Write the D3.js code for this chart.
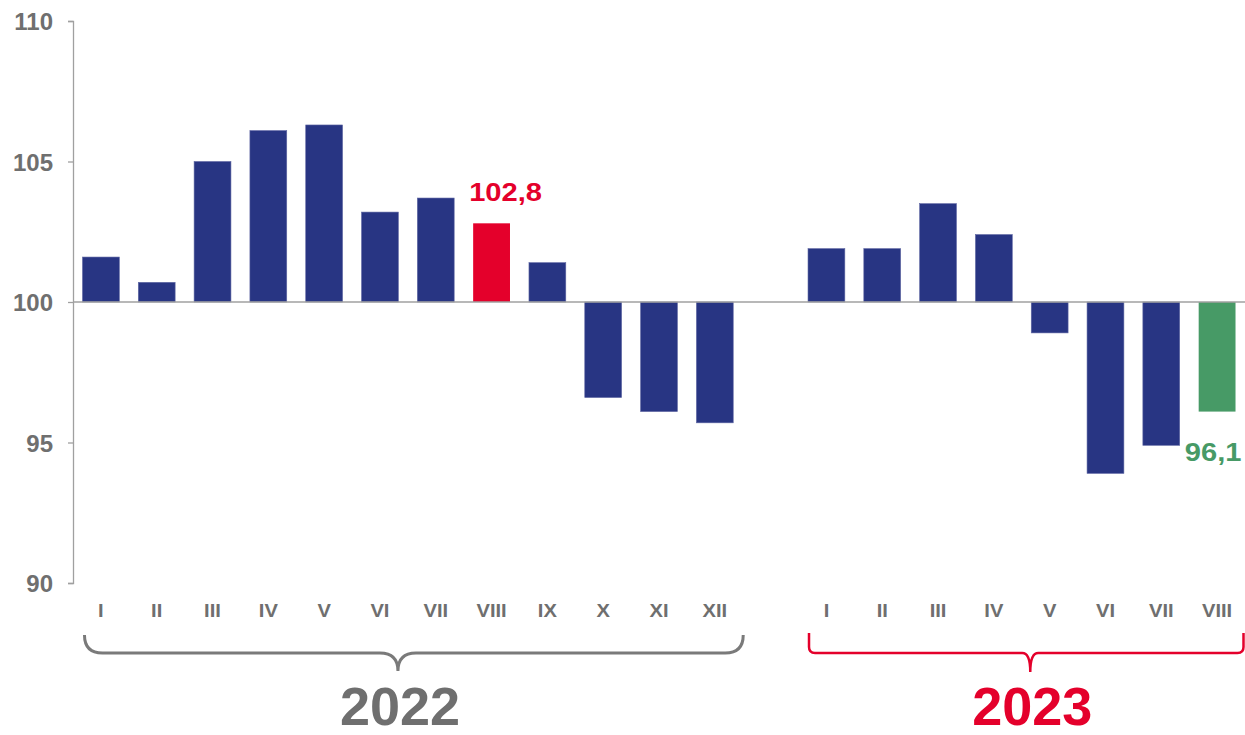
<!DOCTYPE html>
<html>
<head>
<meta charset="utf-8">
<script src="https://cdn.jsdelivr.net/npm/d3@7"></script>
<style>
  body { margin: 0; background: #fff; }
  text { font-family: Arial, "Liberation Sans", sans-serif; font-weight: bold; }
</style>
</head>
<body>
<svg width="1245" height="735"></svg>
<script>
// data
var months2022 = ["I", "II", "III", "IV", "V", "VI", "VII", "VIII", "IX", "X", "XI", "XII"];
var values2022 = [101.6, 100.7, 105.0, 106.1, 106.3, 103.2, 103.7, 102.8, 101.4, 96.6, 96.1, 95.7];
var months2023 = ["I", "II", "III", "IV", "V", "VI", "VII", "VIII"];
var values2023 = [101.9, 101.9, 103.5, 102.4, 98.9, 93.9, 94.9, 96.1];
var years = ["2022", "2023"];
var yTicks = [90, 95, 100, 105, 110];
var baseValue = 100;

var navy = "#283583", red = "#e4002b", green = "#479a66", grey = "#6f6f6f";

// one row per month, plus an empty slot between the years
var data = [];
months2022.forEach(function(m, i) {
  data.push({key: "2022-" + m, month: m, value: values2022[i], year: "2022"});
});
var gapKey = "gap";
months2023.forEach(function(m, i) {
  data.push({key: "2023-" + m, month: m, value: values2023[i], year: "2023"});
});
var keys = data.slice(0, 12).map(function(d) { return d.key; })
  .concat([gapKey])
  .concat(data.slice(12).map(function(d) { return d.key; }));

var margin = {left: 73, right: 0, top: 21, bottom: 152};
var w = 1245, h = 735;

var x = d3.scaleBand().domain(keys)
    .range([margin.left, w - margin.right])
    .paddingInner(0.34).paddingOuter(0.17);
var y = d3.scaleLinear().domain([90, 110]).range([h - margin.bottom, margin.top]);

var svg = d3.select("svg");

// y axis
var yAxis = d3.axisLeft(y).tickValues(yTicks).tickSize(5).tickPadding(15).tickFormat(d3.format("d"));
var gy = svg.append("g")
    .attr("transform", "translate(" + margin.left + ",0)")
    .call(yAxis);
gy.select(".domain").attr("stroke", "#a0a0a0").attr("stroke-width", 1.3);
gy.selectAll(".tick line").attr("stroke", "#a0a0a0").attr("stroke-width", 1.3);
gy.selectAll(".tick text")
    .attr("fill", grey)
    .attr("dy", "0.36em")
    .style("font-size", "24px")
    .style("font-weight", "bold")
    .style("font-family", "Arial, 'Liberation Sans', sans-serif");

// bars
function barColor(d) {
  if (d.year === "2022" && d.month === "VIII") return red;
  if (d.year === "2023" && d.month === "VIII") return green;
  return navy;
}

svg.append("g").selectAll("rect")
  .data(data)
  .enter().append("rect")
    .attr("x", function(d) { return x(d.key); })
    .attr("width", x.bandwidth())
    .attr("y", function(d) { return y(Math.max(d.value, baseValue)); })
    .attr("height", function(d) { return Math.abs(y(d.value) - y(baseValue)); })
    .attr("fill", barColor)
    .attr("stroke", function(d) { return barColor(d) === navy ? "#5f67a3" : "none"; })
    .attr("stroke-width", 0.6);

// base line at 100
svg.append("line")
    .attr("x1", margin.left).attr("x2", w)
    .attr("y1", y(baseValue)).attr("y2", y(baseValue))
    .attr("stroke", "#a0a0a0").attr("stroke-width", 1.5);

// month labels (slightly widened like the original)
svg.append("g").selectAll("text")
  .data(data)
  .enter().append("text")
    .attr("transform", function(d) {
      return "translate(" + (x(d.key) + x.bandwidth() / 2) + ",617) scale(1.12,1)";
    })
    .attr("text-anchor", "middle")
    .attr("fill", grey)
    .style("font-size", "18px")
    .text(function(d) { return d.month; });

// value labels
var fmt = function(v) { return d3.format(".1f")(v).replace(".", ","); };
var aug22 = data[7], aug23 = data[data.length - 1];
svg.append("text")
    .attr("transform", "translate(" + (x(aug22.key) + x.bandwidth() / 2 + 14) + "," + (y(aug22.value) - 22) + ") scale(1.12,1)")
    .attr("text-anchor", "middle")
    .attr("fill", red)
    .style("font-size", "26px")
    .text(fmt(aug22.value));
svg.append("text")
    .attr("transform", "translate(" + (x(aug23.key) + x.bandwidth() / 2 - 4) + "," + (y(aug23.value) + 49) + ") scale(1.12,1)")
    .attr("text-anchor", "middle")
    .attr("fill", green)
    .style("font-size", "26px")
    .text(fmt(aug23.value));

// braces
function brace(x0, x1, xm, yTop, yLine, yTip, r, rm) {
  return "M" + x0 + "," + yTop +
    " L" + x0 + "," + (yLine - r) +
    " Q" + x0 + "," + yLine + " " + (x0 + r) + "," + yLine +
    " L" + (xm - rm) + "," + yLine +
    " Q" + xm + "," + yLine + " " + xm + "," + yTip +
    " Q" + xm + "," + yLine + " " + (xm + rm) + "," + yLine +
    " L" + (x1 - r) + "," + yLine +
    " Q" + x1 + "," + yLine + " " + x1 + "," + (yLine - r) +
    " L" + x1 + "," + yTop;
}

var first22 = x(data[0].key), last22 = x(data[11].key) + x.bandwidth();
var first23 = x(data[12].key), last23 = x(data[data.length - 1].key) + x.bandwidth();
var mid22 = x(data[5].key) + x.bandwidth() / 2 + 18;
var mid23 = x(data[15].key) + x.bandwidth() + 18;

svg.append("path")
    .attr("d", brace(first22 + 2, last22 + 10, mid22, 635, 653, 671, 18, 18))
    .attr("fill", "none").attr("stroke", "#7a7a7a").attr("stroke-width", 3);
svg.append("path")
    .attr("d", brace(first23 + 1, Math.min(last23 + 9, w - 1.5), mid23, 633, 653, 672, 6, 8))
    .attr("fill", "none").attr("stroke", red).attr("stroke-width", 2.5);

// year labels, kept just inside the bottom edge
svg.append("text")
    .attr("x", mid22 + 2)
    .attr("y", 725)
    .attr("text-anchor", "middle")
    .attr("fill", grey)
    .style("font-size", "54px")
    .text(years[0]);
svg.append("text")
    .attr("x", mid23 + 2)
    .attr("y", 725)
    .attr("text-anchor", "middle")
    .attr("fill", red)
    .style("font-size", "54px")
    .text(years[1]);
</script>
</body>
</html>
